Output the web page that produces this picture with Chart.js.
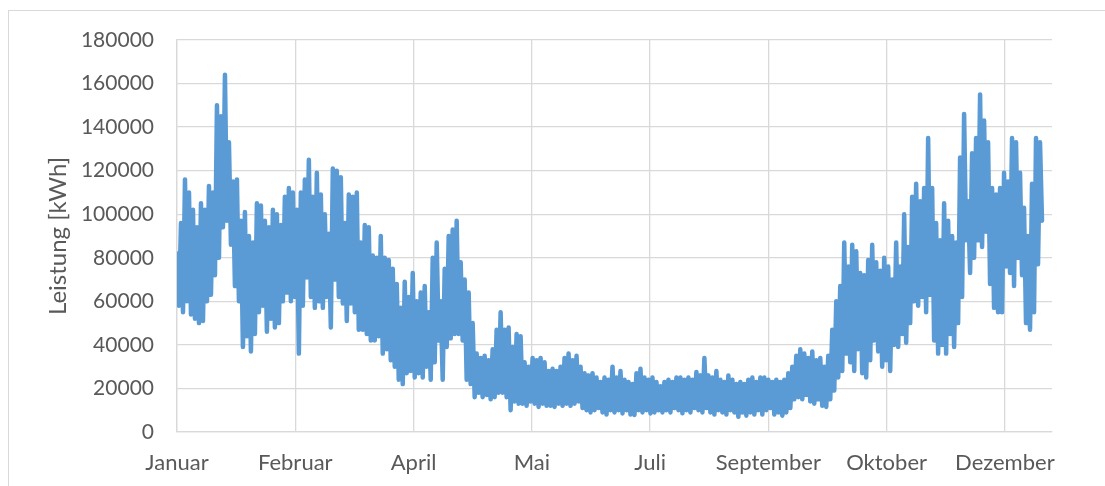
<!DOCTYPE html>
<html>
<head>
<meta charset="utf-8">
<script src="https://cdn.jsdelivr.net/npm/chart.js@4/dist/chart.umd.min.js"></script>
<style>
  html, body { margin: 0; padding: 0; background: #fff; overflow: hidden; }
  .frame { position: absolute; left: 8px; top: 10px; width: 1300px; height: 700px; border: 1px solid #d9d9d9; }
  .wrap { position: absolute; left: 0; top: 0; width: 1105px; height: 486px; }
</style>
</head>
<body>
<div class="frame"></div>
<div class="wrap"><canvas id="lastgang"></canvas></div>
<script>
// Lastgang über ein Jahr — je Eintrag 40 h: Tagesspitze, dann Tal (kWh)
const peakLoad = [
  82000, 96000, 116000, 110000, 102000, 94000, 105000, 102000, 113000, 110000,
  150000, 145000, 164000, 133000, 115000, 116000, 97000, 101000, 90000, 87000,
  105000, 104000, 97000, 94000, 102000, 100000, 95000, 108000, 112000, 110000,
  102000, 110000, 116000, 125000, 108000, 119000, 109000, 100000, 91000, 121000,
  120000, 117000, 96000, 109000, 108000, 110000, 87000, 95000, 94000, 81000,
  80000, 90000, 80000, 79000, 75000, 68000, 57000, 69000, 62000, 73000,
  60000, 64000, 67000, 55000, 80000, 87000, 60000, 75000, 90000, 93000,
  97000, 78000, 70000, 64000, 50000, 36000, 34000, 35000, 33000, 38000,
  47000, 55000, 47000, 48000, 39000, 45000, 44000, 32000, 30000, 34000,
  33000, 34000, 32000, 28000, 29000, 28000, 30000, 34000, 36000, 33000,
  35000, 30000, 27000, 26000, 27000, 25000, 23000, 25000, 24000, 30000,
  25000, 28000, 24000, 23000, 22000, 27000, 29000, 25000, 24000, 25000,
  23000, 21000, 23000, 24000, 23000, 25000, 25000, 24000, 25000, 24000,
  27600, 26000, 34000, 26000, 25000, 28000, 24000, 23000, 26000, 24000,
  22000, 23000, 22000, 24000, 25000, 23000, 25000, 25000, 24000, 23000,
  24000, 23000, 24000, 27000, 30000, 35000, 38000, 36000, 34000, 37000,
  33000, 34000, 30000, 35000, 47000, 60000, 67000, 87000, 76000, 86000,
  83000, 73000, 72000, 79000, 86000, 78000, 74000, 80000, 76000, 70000,
  87000, 76000, 100000, 85000, 108000, 114000, 106000, 112000, 135000, 112000,
  96000, 88000, 105000, 97000, 90000, 87000, 126000, 146000, 106000, 128000,
  135000, 155000, 143000, 133000, 112000, 109000, 112000, 119000, 115000, 135000,
  133000, 119000, 103000, 90000, 114000, 135000, 133000
];
const troughLoad = [
  58000, 55000, 60000, 54000, 52000, 50000, 51000, 60000, 63000, 72000,
  80000, 94000, 97000, 86000, 67000, 60000, 39000, 44000, 37000, 45000,
  55000, 58000, 46000, 52000, 48000, 50000, 60000, 64000, 60000, 62000,
  36000, 58000, 71000, 62000, 57000, 60000, 57000, 62000, 48000, 70000,
  62000, 59000, 51000, 59000, 55000, 47000, 47000, 45000, 42000, 42000,
  44000, 36000, 38000, 33000, 30000, 24000, 22000, 27000, 28000, 25000,
  27000, 25000, 30000, 24000, 32000, 42000, 24000, 39000, 43000, 45000,
  45000, 42000, 24000, 22000, 16000, 18000, 16000, 17000, 15000, 16000,
  18000, 18000, 16000, 10000, 14000, 13000, 13000, 12000, 14000, 13000,
  11500, 13000, 12000, 12000, 11500, 13000, 12000, 13000, 12000, 13000,
  14000, 11000, 10000, 9000, 10000, 11000, 9000, 8000, 10000, 9000,
  10000, 8500, 10000, 8000, 7800, 10000, 9000, 10000, 8500, 9000,
  10000, 9000, 10000, 9000, 11000, 10000, 8600, 10000, 9000, 11000,
  10000, 9000, 11000, 9000, 8000, 10000, 9000, 8000, 10000, 9000,
  7000, 9000, 7500, 9000, 8000, 10000, 8000, 10000, 11000, 8000,
  9000, 7500, 9000, 11000, 15000, 16000, 15000, 17000, 14000, 13000,
  15000, 12000, 11500, 15000, 19000, 25000, 28000, 36000, 32000, 28000,
  38000, 27000, 25000, 33000, 42000, 37000, 30000, 33000, 28000, 40000,
  39000, 45000, 41000, 50000, 60000, 58000, 62000, 55000, 63000, 42000,
  36000, 40000, 36000, 45000, 39000, 50000, 62000, 88000, 73000, 80000,
  88000, 85000, 92000, 68000, 57000, 55000, 55000, 76000, 73000, 67000,
  80000, 72000, 50000, 47000, 55000, 77000, 97000
];

const monthLabels = ['Januar', 'Februar', 'April', 'Mai', 'Juli', 'September', 'Oktober', 'Dezember'];
const monthTickHours = [0, 1184, 2368, 3552, 4736, 5920, 7104, 8288];
const HOURS_IN_YEAR = 8760;

const points = [];
peakLoad.forEach((p, i) => {
  points.push({ x: i * 40, y: p });
  points.push({ x: i * 40 + 20, y: troughLoad[i] });
});

const FAMILY = 'Lato, "Open Sans", sans-serif';
const TEXT = '#595959';
const GRID = '#d9d9d9';

new Chart(document.getElementById('lastgang'), {
  type: 'line',
  data: {
    datasets: [{
      label: 'Leistung',
      data: points,
      borderColor: '#5b9bd5',
      borderWidth: 4.5,
      pointRadius: 0,
      tension: 0,
      fill: false,
      borderJoinStyle: 'round',
      borderCapStyle: 'round',
    }]
  },
  options: {
    responsive: true,
    maintainAspectRatio: false,
    animation: false,
    events: [],
    layout: { padding: { left: 0, top: 40, right: 53, bottom: 0 } },
    plugins: { legend: { display: false }, tooltip: { enabled: false } },
    scales: {
      x: {
        type: 'linear',
        min: 0,
        max: HOURS_IN_YEAR,
        afterBuildTicks: s => { s.ticks = monthTickHours.map(v => ({ value: v })); },
        afterFit: s => { s.height = 54; },
        ticks: { color: TEXT, font: { family: FAMILY, size: 22 }, padding: 18, maxRotation: 0, autoSkip: false,
                 callback: (v, i) => monthLabels[i] },
        grid: { color: GRID, lineWidth: 1.3, drawTicks: false },
        border: { display: true, color: GRID, width: 1.3 },
      },
      y: {
        min: 0,
        max: 180000,
        afterFit: s => { s.width = 177; },
        ticks: { stepSize: 20000, color: TEXT, font: { family: FAMILY, size: 21 }, padding: 23, callback: v => String(v) },
        grid: { color: GRID, lineWidth: 1.3, drawTicks: false },
        border: { display: true, color: GRID, width: 1.3 },
        title: { display: true, text: 'Leistung [kWh]', color: TEXT, font: { family: FAMILY, size: 24 },
                 padding: { top: 44, bottom: 0 } },
      }
    }
  }
});
</script>
</body>
</html>
